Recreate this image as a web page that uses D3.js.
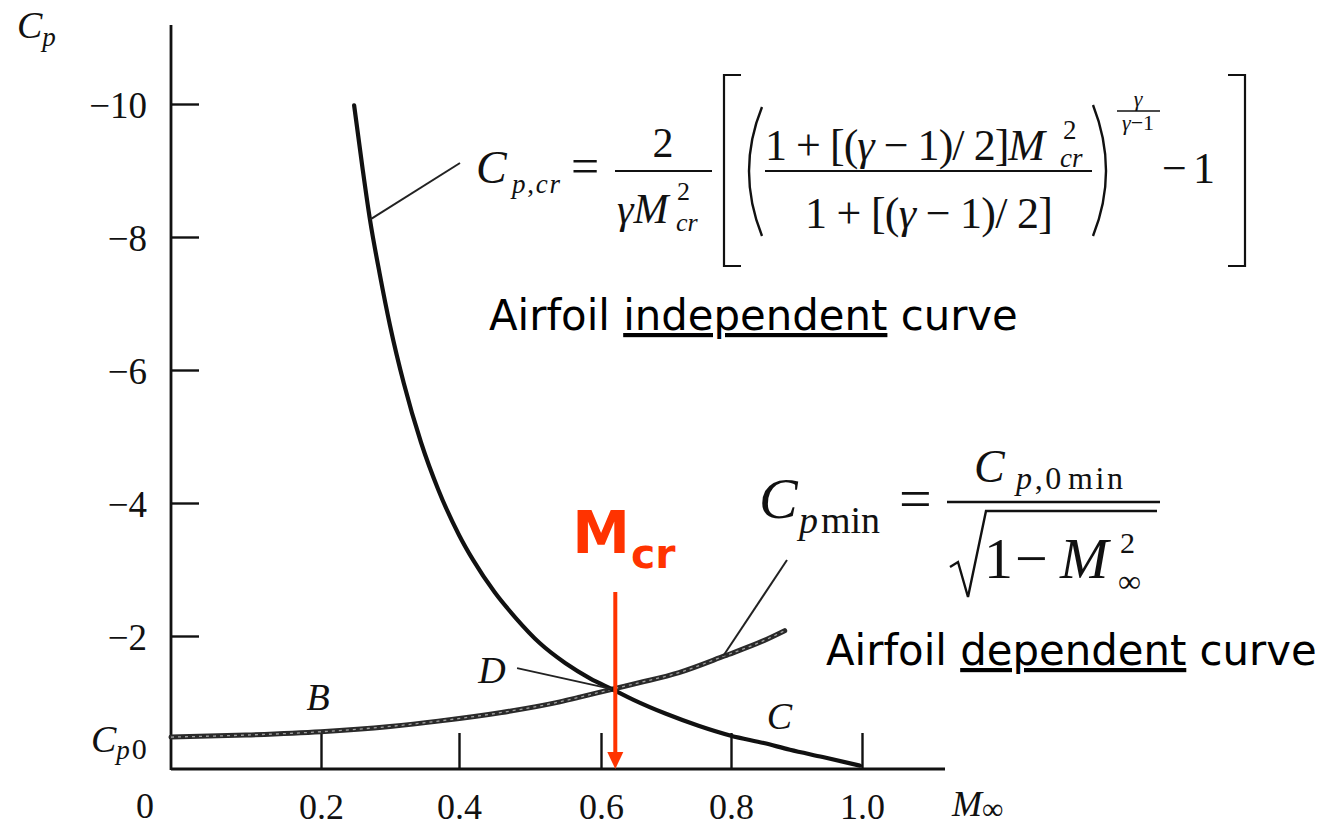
<!DOCTYPE html>
<html>
<head>
<meta charset="utf-8">
<script src="https://cdn.jsdelivr.net/npm/d3@7/dist/d3.min.js"></script>
<style>
  html, body { margin: 0; padding: 0; background: #fff; }
  svg { display: block; }
</style>
</head>
<body>
<svg id="chart" width="1326" height="827"></svg>
<script>
// Critical pressure coefficient curve (airfoil independent)
const machCr = [0.248, 0.26, 0.271, 0.285, 0.30, 0.32, 0.345, 0.37, 0.40, 0.42, 0.45, 0.48,
                0.514, 0.55, 0.585, 0.617, 0.65, 0.70, 0.75, 0.80, 0.85, 0.89, 0.94, 0.997];
const cpCr   = [-9.98, -9.05, -8.26, -7.45, -6.67, -5.80, -4.91, -4.20, -3.52, -3.14, -2.66, -2.27,
                -1.89, -1.59, -1.36, -1.20, -1.04, -0.83, -0.65, -0.50, -0.39, -0.29, -0.18, -0.05];

// Minimum pressure coefficient on the airfoil (airfoil dependent)
const machMin = [0, 0.1, 0.2, 0.3, 0.37, 0.46, 0.542, 0.57, 0.617, 0.66, 0.72, 0.79, 0.85, 0.882];
const cpMin   = [-0.48, -0.51, -0.56, -0.64, -0.72, -0.85, -1.01, -1.08, -1.20, -1.30, -1.45, -1.70, -1.93, -2.08];

// Axis ticks
const machTicks = [0.2, 0.4, 0.6, 0.8, 1.0];
const cpTicks = [-10, -8, -6, -4, -2];

// Critical Mach number (where the two curves cross)
const machCritical = 0.622;

// Point labels on the curves
const pointLabels = [
  { name: "B", mach: 0.2,   cp: -0.56 },
  { name: "D", mach: 0.617, cp: -1.20 },
  { name: "C", mach: 0.88,  cp: -0.31 }
];

const svg = d3.select("#chart");
const serif = "'Liberation Serif', 'Times New Roman', serif";
const sans = "'DejaVu Sans', Verdana, sans-serif";

// Mach scale follows the printed tick spacing of the original plot
const x = d3.scaleLinear()
  .domain([0, 0.2, 0.4, 0.6, 0.8, 1.0])
  .range([171, 321, 459, 601, 731, 862]);
const y = d3.scaleLinear().domain([0, -10]).range([769, 104]);

const axisX0 = 171;          // position of the Cp axis line
const axisTop = 25;          // top end of the Cp axis line
const axisRight = 945;       // right end of the Mach axis line

// ---------- axes ----------
const yAxis = d3.axisLeft(y)
  .tickValues(cpTicks)
  .tickSize(-28)
  .tickPadding(24)
  .tickFormat(d => "\u2212" + Math.abs(d));
const gy = svg.append("g").attr("transform", `translate(${axisX0},0)`).call(yAxis);
gy.select(".domain").remove();
gy.selectAll(".tick line").attr("stroke", "#111").attr("stroke-width", 2.4);
gy.selectAll(".tick text")
  .attr("font-family", serif).attr("font-size", 37).attr("fill", "#111")
  .attr("dy", "0.36em");

const xAxis = d3.axisBottom(x)
  .tickValues(machTicks)
  .tickSize(-36)
  .tickPadding(24)
  .tickFormat(d3.format(".1f"));
const gx = svg.append("g").attr("transform", `translate(0,${y(0)})`).call(xAxis);
gx.select(".domain").remove();
gx.selectAll(".tick line").attr("stroke", "#111").attr("stroke-width", 2.4);
gx.selectAll(".tick text")
  .attr("font-family", serif).attr("font-size", 36).attr("fill", "#111");

// axis lines
svg.append("line")
  .attr("x1", axisX0).attr("x2", axisX0).attr("y1", axisTop).attr("y2", y(0) + 1)
  .attr("stroke", "#111").attr("stroke-width", 2.8);
svg.append("line")
  .attr("x1", axisX0).attr("x2", axisRight).attr("y1", y(0)).attr("y2", y(0))
  .attr("stroke", "#111").attr("stroke-width", 2.8);

// origin label
svg.append("text").attr("x", 145).attr("y", y(0) + 49)
  .attr("text-anchor", "middle").attr("font-family", serif).attr("font-size", 36)
  .attr("fill", "#111").text("0");

// axis titles
const cpTitle = svg.append("text").attr("x", 17).attr("y", 38)
  .attr("font-family", serif).attr("font-style", "italic").attr("fill", "#111");
cpTitle.append("tspan").attr("font-size", 38).text("C");
cpTitle.append("tspan").attr("font-size", 27).attr("dy", 8).text("p");

const machTitle = svg.append("text").attr("x", 952).attr("y", y(0) + 47)
  .attr("font-family", serif).attr("fill", "#111");
machTitle.append("tspan").attr("font-size", 36).attr("font-style", "italic").text("M");
machTitle.append("tspan").attr("font-size", 30).attr("dy", 3).text("\u221e");

const cp0 = svg.append("text").attr("x", 91).attr("y", y(cpMin[0]) + 15)
  .attr("font-family", serif).attr("fill", "#111");
cp0.append("tspan").attr("font-size", 38).attr("font-style", "italic").text("C");
cp0.append("tspan").attr("font-size", 27).attr("font-style", "italic").attr("dy", 7).text("p");
cp0.append("tspan").attr("font-size", 30).attr("dx", 2).attr("dy", 0).text("0");

// ---------- curves ----------
const line = d3.line()
  .x(d => x(d[0]))
  .y(d => y(d[1]))
  .curve(d3.curveMonotoneX);

const minPts = d3.zip(machMin, cpMin);
const crPts = d3.zip(machCr, cpCr);

svg.append("path").datum(minPts)
  .attr("d", line).attr("fill", "none")
  .attr("stroke", "#2a2a2a").attr("stroke-width", 5).attr("stroke-linecap", "round");
svg.append("path").datum(minPts)
  .attr("d", line).attr("fill", "none")
  .attr("stroke", "#a0a0a0").attr("stroke-width", 1.3)
  .attr("stroke-dasharray", "3 4");

svg.append("path").datum(crPts)
  .attr("d", line).attr("fill", "none")
  .attr("stroke", "#111").attr("stroke-width", 4.2).attr("stroke-linecap", "round");

// ---------- point labels and leaders ----------
const labelOffsets = { B: [-3, -22], D: [-120, -6], C: [-4, -19] };
pointLabels.forEach(p => {
  const [dx, dy] = labelOffsets[p.name];
  svg.append("text")
    .attr("x", x(p.mach) + dx).attr("y", y(p.cp) + dy)
    .attr("text-anchor", "middle")
    .attr("font-family", serif).attr("font-style", "italic").attr("font-size", 38)
    .attr("fill", "#111").text(p.name);
});

// leader from D to the crossing point
const dPt = pointLabels[1];
svg.append("line")
  .attr("x1", x(dPt.mach) - 95).attr("y1", y(dPt.cp) - 21)
  .attr("x2", x(dPt.mach)).attr("y2", y(dPt.cp))
  .attr("stroke", "#222").attr("stroke-width", 1.8);

// leader from the Cp,cr formula to its curve
svg.append("line")
  .attr("x1", x(machCr[2])).attr("y1", y(cpCr[2]))
  .attr("x2", 460).attr("y2", 163)
  .attr("stroke", "#222").attr("stroke-width", 2);

// leader from the Cp,min formula to its curve
const leadMach = 0.788, leadCp = -1.70;
svg.append("line")
  .attr("x1", x(leadMach)).attr("y1", y(leadCp))
  .attr("x2", 787).attr("y2", 560)
  .attr("stroke", "#222").attr("stroke-width", 2);

// ---------- critical Mach marker ----------
const red = "#ff3300";
const mcrX = x(machCritical);
svg.append("line")
  .attr("x1", mcrX).attr("x2", mcrX).attr("y1", 592).attr("y2", y(0) - 16)
  .attr("stroke", red).attr("stroke-width", 4);
svg.append("path")
  .attr("d", `M${mcrX - 8},${y(0) - 17} L${mcrX + 8},${y(0) - 17} L${mcrX},${y(0)} Z`)
  .attr("fill", red);
const mcrLabel = svg.append("text").attr("x", mcrX - 43).attr("y", 553)
  .attr("font-family", sans).attr("font-weight", "bold").attr("fill", red);
mcrLabel.append("tspan").attr("font-size", 58).text("M");
mcrLabel.append("tspan").attr("font-size", 41).attr("dx", 1).attr("dy", 15).text("cr");

// ---------- formulas ----------
function txt(x0, y0, parts, opts = {}) {
  const t = svg.append("text").attr("x", x0).attr("y", y0)
    .attr("font-family", opts.family || serif)
    .attr("font-size", opts.size || 42)
    .attr("fill", "#111")
    .attr("text-anchor", opts.anchor || "start");
  if (opts.length) t.attr("textLength", opts.length).attr("lengthAdjust", "spacing");
  parts.forEach(p => {
    const s = t.append("tspan").text(p.t);
    if (p.i) s.attr("font-style", "italic");
    if (p.size) s.attr("font-size", p.size);
    if (p.dy) s.attr("dy", p.dy);
    if (p.dx) s.attr("dx", p.dx);
  });
  return t;
}
function rule(x1, x2, yy, w) {
  svg.append("line").attr("x1", x1).attr("x2", x2).attr("y1", yy).attr("y2", yy)
    .attr("stroke", "#111").attr("stroke-width", w || 2);
}
function stroke(d, w) {
  svg.append("path").attr("d", d).attr("fill", "none")
    .attr("stroke", "#111").attr("stroke-width", w || 2);
}

// C_p,cr = 2/(γ M_cr^2) [ ( (1+[(γ-1)/2] M_cr^2) / (1+[(γ-1)/2]) )^(γ/(γ-1)) - 1 ]
txt(476, 183, [{ t: "C", i: true }], { size: 46 });
txt(512, 193, [{ t: "p", i: true }, { t: "," }, { t: "cr", i: true }], { size: 27, length: 48 });
txt(571, 183, [{ t: "=" }], { size: 50 });
txt(663, 157, [{ t: "2" }], { size: 42, anchor: "middle" });
rule(615, 712, 171);
txt(617, 223, [{ t: "\u03b3", i: true }, { t: "M", i: true }], { size: 42 });
txt(677, 200, [{ t: "2" }], { size: 26 });
txt(676, 231, [{ t: "cr", i: true }], { size: 26 });

stroke("M741,75 H724 V266 H741", 2.2);
stroke("M1228,75 H1245 V266 H1228", 2.2);
stroke("M762,107 Q736,171 762,236", 2.4);
stroke("M1093,105 Q1119,171 1093,236", 2.4);

txt(765, 160, [{ t: "1 + [(" }, { t: "\u03b3", i: true }, { t: " \u2212 1)/ 2]" }, { t: "M", i: true }],
    { size: 44, length: 280 });
txt(1063, 139, [{ t: "2" }], { size: 27 });
txt(1060, 167, [{ t: "cr", i: true }], { size: 27 });
rule(765, 1092, 171);
txt(805, 228, [{ t: "1 + [(" }, { t: "\u03b3", i: true }, { t: " \u2212 1)/ 2]" }],
    { size: 44, length: 248 });

txt(1138, 106, [{ t: "\u03b3", i: true }], { size: 22, anchor: "middle" });
rule(1117, 1160, 111, 1.4);
txt(1138, 130, [{ t: "\u03b3", i: true }, { t: "\u22121" }], { size: 22, anchor: "middle" });
txt(1162, 183, [{ t: "\u2212 1" }], { size: 44, length: 53 });

// C_p,min = C_p,0min / sqrt(1 - M_inf^2)
txt(759, 518, [{ t: "C", i: true }], { size: 58 });
txt(799, 533, [{ t: "p", i: true }, { t: "min", dx: 3 }], { size: 38 });
txt(899, 518, [{ t: "=" }], { size: 58 });
rule(947, 1160, 502, 2.6);
txt(974, 482, [{ t: "C", i: true }], { size: 46 });
txt(1016, 489, [{ t: "p", i: true }, { t: ",0" }, { t: "min", dx: 4 }], { size: 32, length: 107 });
stroke("M950,567 L958,562 L968,597 L986,511 H1157", 2.4);
txt(984, 578, [{ t: "1" }], { size: 58 });
txt(1015, 578, [{ t: "\u2212" }], { size: 58 });
txt(1060, 578, [{ t: "M", i: true }], { size: 58 });
txt(1120, 553, [{ t: "2" }], { size: 30 });
txt(1118, 592, [{ t: "\u221e" }], { size: 32 });

// ---------- captions ----------
function caption(x0, y0, before, under, after) {
  const t = svg.append("text").attr("x", x0).attr("y", y0)
    .attr("font-family", sans).attr("font-size", 41.8).attr("fill", "#000");
  t.append("tspan").text(before);
  t.append("tspan").attr("text-decoration", "underline").text(under);
  t.append("tspan").text(after);
  return t;
}
caption(489, 330, "Airfoil ", "independent", " curve");
caption(826, 665, "Airfoil ", "dependent", " curve");
</script>
</body>
</html>
